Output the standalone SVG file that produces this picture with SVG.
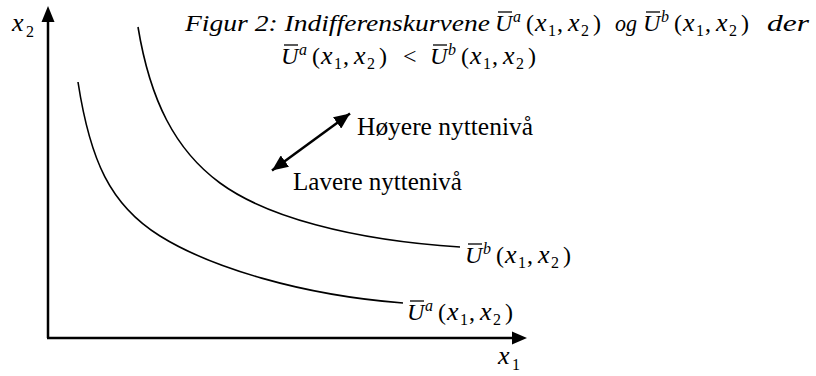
<svg xmlns="http://www.w3.org/2000/svg" width="816" height="376" viewBox="0 0 816 376">
<style>
.ax{stroke:#000;stroke-width:2.5;fill:none}
.cv{stroke:#000;stroke-width:1.6;fill:none}
.ov{stroke:#000;stroke-width:1.3}
.ttl{font-family:"Liberation Serif","Times New Roman",serif;font-style:italic;font-size:23px;fill:#000}
.mi{font-family:"Liberation Serif","Times New Roman",serif;font-style:italic;font-size:24px;fill:#000}
.mx{font-family:"Liberation Serif","Times New Roman",serif;font-style:italic;font-size:26px;fill:#000}
.mo{font-family:"Liberation Serif","Times New Roman",serif;font-style:normal;font-size:24px;fill:#000}
.sup{font-family:"Liberation Serif",serif;font-style:italic;font-size:16px}
.sub{font-family:"Liberation Serif",serif;font-style:normal;font-size:16px}
.lt{font-family:"Liberation Serif","Times New Roman",serif;font-size:25px;fill:#000}
</style>
<defs>
<marker id="ah" markerUnits="userSpaceOnUse" markerWidth="16" markerHeight="14" refX="16" refY="7" orient="auto-start-reverse">
<path d="M0,0 L16,7 L0,14 z" fill="#000"/>
</marker>
</defs>
<g id="axes">
<line class="ax" x1="48" y1="338" x2="48" y2="22"/>
<polygon points="48,6 41.5,22 54.5,22" fill="#000"/>
<line class="ax" x1="47" y1="338" x2="513" y2="338"/>
<polygon points="527,338 512,331.5 512,344.5" fill="#000"/>
<text x="12" y="31"><tspan class="mx">x</tspan><tspan class="sub" x="26" y="37">2</tspan></text>
<text x="498" y="364"><tspan class="mx">x</tspan><tspan class="sub" x="512" y="370">1</tspan></text>
</g>
<g id="title">
<text class="ttl" x="185" y="31" textLength="305" lengthAdjust="spacingAndGlyphs">Figur 2: Indifferenskurvene</text>
<line class="ov" x1="498" y1="12" x2="512" y2="12"/>
<text><tspan class="mi" x="495" y="31">U</tspan><tspan class="sup" x="513" y="22">a</tspan><tspan class="mo" x="526" y="31">(</tspan><tspan class="mx" x="535" y="31">x</tspan><tspan class="sub" x="548" y="36">1</tspan><tspan class="mo" x="557" y="31">,</tspan><tspan class="mx" x="568" y="31">x</tspan><tspan class="sub" x="581" y="36">2</tspan><tspan class="mo" x="593" y="31">)</tspan></text>
<text class="mi" x="615" y="31" textLength="22" lengthAdjust="spacingAndGlyphs">og</text>
<line class="ov" x1="646" y1="12" x2="660" y2="12"/>
<text><tspan class="mi" x="643" y="31">U</tspan><tspan class="sup" x="661" y="22">b</tspan><tspan class="mo" x="674" y="31">(</tspan><tspan class="mx" x="683" y="31">x</tspan><tspan class="sub" x="696" y="36">1</tspan><tspan class="mo" x="705" y="31">,</tspan><tspan class="mx" x="716" y="31">x</tspan><tspan class="sub" x="729" y="36">2</tspan><tspan class="mo" x="741" y="31">)</tspan></text>
<text class="mi" x="767" y="31" textLength="42" lengthAdjust="spacingAndGlyphs">der</text>
<line class="ov" x1="284" y1="45" x2="298" y2="45"/>
<text><tspan class="mi" x="281" y="64">U</tspan><tspan class="sup" x="299" y="55">a</tspan><tspan class="mo" x="312" y="64">(</tspan><tspan class="mx" x="321" y="64">x</tspan><tspan class="sub" x="334" y="69">1</tspan><tspan class="mo" x="343" y="64">,</tspan><tspan class="mx" x="354" y="64">x</tspan><tspan class="sub" x="367" y="69">2</tspan><tspan class="mo" x="379" y="64">)</tspan></text>
<text class="mo" x="403" y="64">&lt;</text>
<line class="ov" x1="433" y1="45" x2="447" y2="45"/>
<text><tspan class="mi" x="430" y="64">U</tspan><tspan class="sup" x="448" y="55">b</tspan><tspan class="mo" x="461" y="64">(</tspan><tspan class="mx" x="470" y="64">x</tspan><tspan class="sub" x="483" y="69">1</tspan><tspan class="mo" x="492" y="64">,</tspan><tspan class="mx" x="503" y="64">x</tspan><tspan class="sub" x="516" y="69">2</tspan><tspan class="mo" x="528" y="64">)</tspan></text>
</g>
<g id="curve-b">
<path class="cv" d="M138,27 C150,100 175,150 220,183 C265,216 350,240 460,247"/>
<line class="ov" x1="468" y1="244" x2="482" y2="244"/>
<text><tspan class="mi" x="465" y="263">U</tspan><tspan class="sup" x="483" y="254">b</tspan><tspan class="mo" x="496" y="263">(</tspan><tspan class="mx" x="505" y="263">x</tspan><tspan class="sub" x="518" y="268">1</tspan><tspan class="mo" x="527" y="263">,</tspan><tspan class="mx" x="538" y="263">x</tspan><tspan class="sub" x="551" y="268">2</tspan><tspan class="mo" x="563" y="263">)</tspan></text>
</g>
<g id="curve-a">
<path class="cv" d="M78,82 C90,160 110,205 160,236 C210,267 300,295 403,303"/>
<line class="ov" x1="410" y1="301" x2="424" y2="301"/>
<text><tspan class="mi" x="407" y="320">U</tspan><tspan class="sup" x="425" y="311">a</tspan><tspan class="mo" x="438" y="320">(</tspan><tspan class="mx" x="447" y="320">x</tspan><tspan class="sub" x="460" y="325">1</tspan><tspan class="mo" x="469" y="320">,</tspan><tspan class="mx" x="480" y="320">x</tspan><tspan class="sub" x="493" y="325">2</tspan><tspan class="mo" x="505" y="320">)</tspan></text>
</g>
<g id="connectors">
<line x1="272" y1="170.5" x2="350" y2="113.5" stroke="#000" stroke-width="2.5" marker-start="url(#ah)" marker-end="url(#ah)"/>
</g>
<g id="label-higher">
<text class="lt" x="357" y="135" textLength="176" lengthAdjust="spacingAndGlyphs">Høyere nyttenivå</text>
</g>
<g id="label-lower">
<text class="lt" x="293" y="190" textLength="169" lengthAdjust="spacingAndGlyphs">Lavere nyttenivå</text>
</g>
</svg>
